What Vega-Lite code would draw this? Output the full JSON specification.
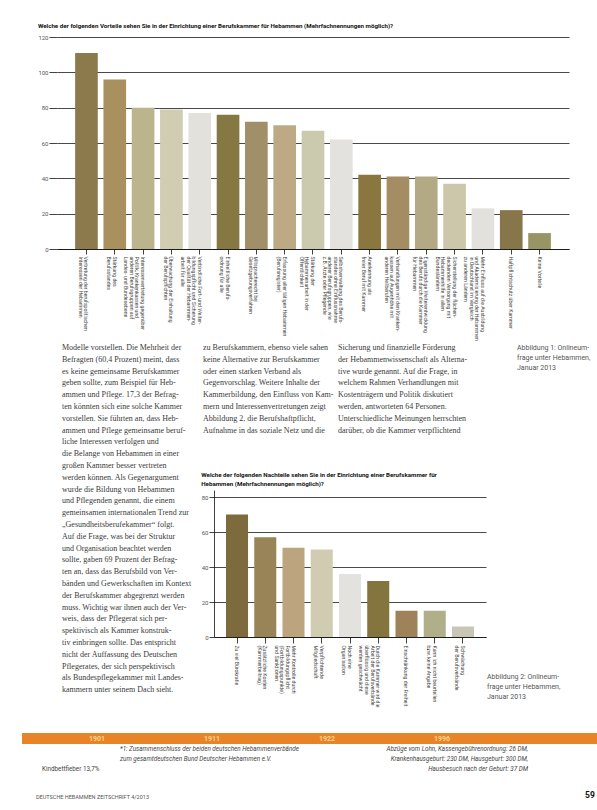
{
  "$schema": "https://vega.github.io/schema/vega-lite/v6.json",
  "background": "white",
  "padding": {"left": 22, "top": 22, "right": 0, "bottom": 0},
  "autosize": {"type": "pad"},
  "spacing": 3,
  "resolve": {"scale": {"color": "independent"}},
  "config": {
    "view": {"stroke": null},
    "font": "Roboto, Liberation Sans, sans-serif",
    "axis": {
      "labelFont": "Roboto, Liberation Sans, sans-serif",
      "domainColor": "#111111",
      "tickColor": "#111111",
      "gridColor": "#1a1a1a",
      "gridWidth": 0.8,
      "domainWidth": 0.8,
      "tickWidth": 0.8,
      "labelColor": "#444444"
    },
    "title": {"font": "Roboto, Liberation Sans, sans-serif", "color": "#111111"}
  },
  "vconcat": [
    {
      "spacing": 14,
      "hconcat": [
        {"width": 1, "height": 1, "data": {"values": []}, "mark": "point"},
        {
          "width": 512,
          "height": 212,
          "title": {
            "text": "Welche der folgenden Vorteile sehen Sie in der Einrichtung einer Berufskammer für Hebammen (Mehrfachnennungen möglich)?",
            "anchor": "start",
            "frame": "bounds",
            "fontSize": 6.2,
            "fontWeight": "bold",
            "offset": 5
          },
          "data": {
            "values": [
              {"Vorteil": "Vertretung der berufspolitischen|Interessen der Hebammen", "Anzahl": 111},
              {"Vorteil": "Stärkung des|Berufsstandes", "Anzahl": 96},
              {"Vorteil": "Interessenvertretung gegenüber|Politik, Krankenkassen und|anderen Berufsgruppen auf|Landes- und Bundesebene", "Anzahl": 80},
              {"Vorteil": "Überwachung der Einhaltung|der Berufspflichten", "Anzahl": 79},
              {"Vorteil": "Verbindliche Fort- und Weiter-|bildungspflicht und Sicherung|der Qualität der Hebammen-|arbeit für alle", "Anzahl": 77},
              {"Vorteil": "Einheitliche Berufs-|ordnung für alle", "Anzahl": 76},
              {"Vorteil": "Mitspracherecht bei|Gesetzgebungsverfahren", "Anzahl": 72},
              {"Vorteil": "Erfassung aller tätigen Hebammen|(Berufsregister)", "Anzahl": 70},
              {"Vorteil": "Stärkung der|Hebammenarbeit in der|Öffentlichkeit", "Anzahl": 67},
              {"Vorteil": "Selbstverwaltung des Berufs-|standes ohne Einflussnahme|anderer Berufsgruppen, wie|z.B. Ärzte oder Pflegende", "Anzahl": 62},
              {"Vorteil": "Anerkennung als|freier Beruf mit Kammer", "Anzahl": 42},
              {"Vorteil": "Verhandlungen mit den Kranken-|kassen auf Augenhöhe mit|anderen Heilberufen", "Anzahl": 41},
              {"Vorteil": "Eigenständige Weiterentwicklung|des Berufs durch die Kammer|für Hebammen", "Anzahl": 41},
              {"Vorteil": "Sicherstellung der flächen-|deckenden Versorgung mit|Hebammenhilfe in allen|Bundesländern", "Anzahl": 37},
              {"Vorteil": "Mehr Einfluss auf die Ausbildung|und Akademisierung der Hebammen|in Deutschland im Vergleich|zu anderen Ländern", "Anzahl": 23},
              {"Vorteil": "Haftpflichtschutz über Kammer", "Anzahl": 22},
              {"Vorteil": "Keine Vorteile", "Anzahl": 9}
            ]
          },
          "mark": {"type": "bar"},
          "encoding": {
            "x": {
              "field": "Vorteil",
              "type": "nominal",
              "sort": null,
              "scale": {"paddingInner": 0.2, "paddingOuter": 0.64},
              "axis": {
                "title": null,
                "labelAngle": 90,
                "labelExpr": "split(datum.label, '|')",
                "labelFontSize": 5.2,
                "labelLineHeight": 5.6,
                "labelPadding": 2,
                "tickSize": 5,
                "labelOverlap": false,
                "labelLimit": 0
              }
            },
            "y": {
              "field": "Anzahl",
              "type": "quantitative",
              "scale": {"domain": [0, 120], "nice": false},
              "axis": {
                "title": null,
                "values": [0, 20, 40, 60, 80, 100, 120],
                "grid": true,
                "domain": false,
                "tickSize": 8,
                "labelFontSize": 6,
                "labelPadding": 1,
                "labelColor": "#555555"
              }
            },
            "color": {
              "field": "Vorteil",
              "type": "nominal",
              "sort": null,
              "legend": null,
              "scale": {"range": ["#8c7a4c", "#a8915f", "#bbb48c", "#d0cdb2", "#e3e1dc", "#857842", "#a08f68", "#bea985", "#cbcaae", "#e4e2de", "#8a773f", "#a58d63", "#b3aa85", "#ccc7ab", "#e2e1dd", "#86764a", "#989565"]}
            }
          }
        }
      ]
    },
    {
      "spacing": 25,
      "vconcat": [
        {
          "spacing": 1,
          "hconcat": [
            {
              "spacing": 39,
              "hconcat": [
                {"width": 1, "height": 1, "data": {"values": []}, "mark": "point"},
                {
                  "width": 136,
                  "height": 100,
                  "data": {"values": [{"Text": "Modelle vorstellen. Die Mehrheit der\nBefragten (60,4 Prozent) meint, dass\nes keine gemeinsame Berufskammer\ngeben sollte, zum Beispiel für Heb-\nammen und Pflege. 17,3 der Befrag-\nten könnten sich eine solche Kammer\nvorstellen. Sie führten an, dass Heb-\nammen und Pflege gemeinsame beruf-\nliche Interessen verfolgen und\ndie Belange von Hebammen in einer\ngroßen Kammer besser vertreten\nwerden können. Als Gegenargument\nwurde die Bildung von Hebammen\nund Pflegenden genannt, die einem\ngemeinsamen internationalen Trend zur\n„Gesundheitsberufekammer“ folgt.\nAuf die Frage, was bei der Struktur\nund Organisation beachtet werden\nsollte, gaben 69 Prozent der Befrag-\nten an, dass das Berufsbild von Ver-\nbänden und Gewerkschaften im Kontext\nder Berufskammer abgegrenzt werden\nmuss. Wichtig war ihnen auch der Ver-\nweis, dass der Pflegerat sich per-\nspektivisch als Kammer konstruk-\ntiv einbringen sollte. Das entspricht\nnicht der Auffassung des Deutschen\nPflegerates, der sich perspektivisch\nals Bundespflegekammer mit Landes-\nkammern unter seinem Dach sieht."}]},
                  "mark": {"type": "text", "align": "left", "baseline": "top", "lineBreak": "\n", "font": "Liberation Serif", "fontSize": 8, "lineHeight": 11.8, "color": "#3a3a3a"},
                  "encoding": {
                    "text": {"field": "Text", "type": "nominal"},
                    "x": {"datum": 0, "type": "quantitative", "scale": {"domain": [0, 1]}, "axis": null},
                    "y": {"datum": 1, "type": "quantitative", "scale": {"domain": [0, 1]}, "axis": null}
                  }
                }
              ]
            },
            {
              "spacing": 27,
              "vconcat": [
                {
                  "spacing": 3,
                  "hconcat": [
                    {"width": 1, "height": 1, "data": {"values": []}, "mark": "point"},
                    {
                      "width": 132,
                      "height": 100,
                      "data": {"values": [{"Text": "zu Berufskammern, ebenso viele sahen\nkeine Alternative zur Berufskammer\noder einen starken Verband als\nGegenvorschlag. Weitere Inhalte der\nKammerbildung, den Einfluss von Kam-\nmern und Interessenvertretungen zeigt\nAbbildung 2, die Berufshaftpflicht,\nAufnahme in das soziale Netz und die"}]},
                      "mark": {"type": "text", "align": "left", "baseline": "top", "lineBreak": "\n", "font": "Liberation Serif", "fontSize": 8, "lineHeight": 11.8, "color": "#3a3a3a"},
                      "encoding": {
                        "text": {"field": "Text", "type": "nominal"},
                        "x": {"datum": 0, "type": "quantitative", "scale": {"domain": [0, 1]}, "axis": null},
                        "y": {"datum": 1, "type": "quantitative", "scale": {"domain": [0, 1]}, "axis": null}
                      }
                    },
                    {
                      "width": 176,
                      "height": 100,
                      "data": {"values": [{"Text": "Sicherung und finanzielle Förderung\nder Hebammenwissenschaft als Alterna-\ntive wurde genannt. Auf die Frage, in\nwelchem Rahmen Verhandlungen mit\nKostenträgern und Politik diskutiert\nwerden, antworteten 64 Personen.\nUnterschiedliche Meinungen herrschten\ndarüber, ob die Kammer verpflichtend"}]},
                      "mark": {"type": "text", "align": "left", "baseline": "top", "lineBreak": "\n", "font": "Liberation Serif", "fontSize": 8, "lineHeight": 11.8, "color": "#3a3a3a"},
                      "encoding": {
                        "text": {"field": "Text", "type": "nominal"},
                        "x": {"datum": 0, "type": "quantitative", "scale": {"domain": [0, 1]}, "axis": null},
                        "y": {"datum": 1, "type": "quantitative", "scale": {"domain": [0, 1]}, "axis": null}
                      }
                    },
                    {
                      "width": 78,
                      "height": 30,
                      "data": {"values": [{"Text": "Abbildung 1: Onlineum-\nfrage unter Hebammen,\nJanuar 2013"}]},
                      "mark": {"type": "text", "align": "left", "baseline": "top", "lineBreak": "\n", "fontSize": 7, "lineHeight": 10, "color": "#555555"},
                      "encoding": {
                        "text": {"field": "Text", "type": "nominal"},
                        "x": {"datum": 0, "type": "quantitative", "scale": {"domain": [0, 1]}, "axis": null},
                        "y": {"datum": 1, "type": "quantitative", "scale": {"domain": [0, 1]}, "axis": null}
                      }
                    }
                  ]
                },
                {
                  "spacing": 1,
                  "hconcat": [
                    {"width": 1, "height": 1, "data": {"values": []}, "mark": "point"},
                    {
                      "width": 272,
                      "height": 147,
                      "title": {
                        "text": ["Welche der folgenden Nachteile sehen Sie in der Einrichtung einer Berufskammer für", "Hebammen (Mehrfachnennungen möglich)?"],
                        "anchor": "start",
                        "frame": "bounds",
                        "fontSize": 6.2,
                        "fontWeight": "bold",
                        "lineHeight": 9,
                        "offset": 3
                      },
                      "data": {
                        "values": [
                          {"Nachteil": "Zu viel Bürokratie", "Anzahl": 70},
                          {"Nachteil": "Zusätzliche Kosten|(Kammerbeitrag)", "Anzahl": 57},
                          {"Nachteil": "Mehr Kontrolle durch|Fortbildungspflicht|(Fortbildungspunkte)|und Sanktionen", "Anzahl": 51},
                          {"Nachteil": "Verpflichtende|Mitgliedschaft", "Anzahl": 50},
                          {"Nachteil": "Noch eine|Organisation", "Anzahl": 36},
                          {"Nachteil": "Durch die Kammer wird die|Arbeit der Berufsverbände|überflüssig und diese|werden geschwächt", "Anzahl": 32},
                          {"Nachteil": "Einschränkung der Freiheit", "Anzahl": 15},
                          {"Nachteil": "Kann ich nicht beurteilen|bzw. keine Angabe", "Anzahl": 15},
                          {"Nachteil": "Schwächung|der Berufsverbände", "Anzahl": 6}
                        ]
                      },
                      "mark": {"type": "bar"},
                      "encoding": {
                        "x": {
                          "field": "Nachteil",
                          "type": "nominal",
                          "sort": null,
                          "scale": {"paddingInner": 0.22, "paddingOuter": 0.425},
                          "axis": {
                            "title": null,
                            "labelAngle": 90,
                            "labelExpr": "split(datum.label, '|')",
                            "labelFontSize": 5.2,
                            "labelLineHeight": 5.6,
                            "labelPadding": 2,
                            "tickSize": 6,
                            "labelOverlap": false,
                            "labelLimit": 0
                          }
                        },
                        "y": {
                          "field": "Anzahl",
                          "type": "quantitative",
                          "scale": {"domain": [0, 84], "nice": false},
                          "axis": {
                            "title": null,
                            "values": [0, 20, 40, 60, 80],
                            "grid": true,
                            "domain": true,
                            "tickSize": 5,
                            "labelFontSize": 6,
                            "labelPadding": 1,
                            "labelColor": "#555555"
                          }
                        },
                        "color": {
                          "field": "Nachteil",
                          "type": "nominal",
                          "sort": null,
                          "legend": null,
                          "scale": {"range": ["#7e6b3d", "#998457", "#bba47e", "#cfccb2", "#e4e2de", "#84743e", "#9e835a", "#b1ae8a", "#c8c7b6"]}
                        }
                      }
                    },
                    {
                      "width": 78,
                      "height": 183,
                      "data": {"values": [{"Text": "Abbildung 2: Onlineum-\nfrage unter Hebammen,\nJanuar 2013"}]},
                      "mark": {"type": "text", "align": "left", "baseline": "top", "lineBreak": "\n", "fontSize": 7, "lineHeight": 10, "color": "#555555"},
                      "encoding": {
                        "text": {"field": "Text", "type": "nominal"},
                        "x": {"datum": 0, "type": "quantitative", "scale": {"domain": [0, 1]}, "axis": null},
                        "y": {"datum": 0, "type": "quantitative", "scale": {"domain": [0, 1]}, "axis": null}
                      }
                    }
                  ]
                }
              ]
            }
          ]
        },
        {
          "spacing": 2,
          "vconcat": [
            {
              "width": 575,
              "height": 11,
              "view": {"fill": "#e8832a", "stroke": null},
              "data": {"values": [{"Jahr": "1901"}, {"Jahr": "1911"}, {"Jahr": "1922"}, {"Jahr": "1996"}]},
              "mark": {"type": "text", "fontSize": 7, "fontWeight": "bold", "color": "#f7d68e", "baseline": "middle"},
              "encoding": {
                "x": {"field": "Jahr", "type": "ordinal", "scale": {"type": "point", "padding": 1.02, "align": 0.326}, "axis": null},
                "y": {"datum": 0.5, "type": "quantitative", "scale": {"domain": [0, 1]}, "axis": null},
                "text": {"field": "Jahr", "type": "nominal"}
              }
            },
            {
              "spacing": 19,
              "hconcat": [
                {"width": 1, "height": 1, "data": {"values": []}, "mark": "point"},
                {
                  "width": 59,
                  "height": 26,
                  "data": {"values": [{"Text": "Kindbettfieber 13,7%"}]},
                  "mark": {"type": "text", "align": "left", "baseline": "bottom", "fontSize": 6.3, "color": "#444444"},
                  "encoding": {
                    "text": {"field": "Text", "type": "nominal"},
                    "x": {"datum": 0, "type": "quantitative", "scale": {"domain": [0, 1]}, "axis": null},
                    "y": {"datum": 0, "type": "quantitative", "scale": {"domain": [0, 1]}, "axis": null}
                  }
                },
                {
                  "width": 240,
                  "height": 26,
                  "data": {"values": [{"Text": "*1: Zusammenschluss der beiden deutschen Hebammenverbände\nzum gesamtdeutschen Bund Deutscher Hebammen e.V."}]},
                  "mark": {"type": "text", "align": "left", "baseline": "top", "lineBreak": "\n", "fontSize": 6.3, "fontStyle": "italic", "lineHeight": 10, "color": "#444444"},
                  "encoding": {
                    "text": {"field": "Text", "type": "nominal"},
                    "x": {"datum": 0, "type": "quantitative", "scale": {"domain": [0, 1]}, "axis": null},
                    "y": {"datum": 1, "type": "quantitative", "scale": {"domain": [0, 1]}, "axis": null}
                  }
                },
                {
                  "width": 149,
                  "height": 26,
                  "data": {"values": [{"Text": "Abzüge vom Lohn, Kassengebührenordnung: 26 DM,\nKrankenhausgeburt: 230 DM, Hausgeburt: 300 DM,\nHausbesuch nach der Geburt: 37 DM"}]},
                  "mark": {"type": "text", "align": "right", "baseline": "top", "lineBreak": "\n", "fontSize": 6.3, "fontStyle": "italic", "lineHeight": 10, "color": "#444444"},
                  "encoding": {
                    "text": {"field": "Text", "type": "nominal"},
                    "x": {"datum": 1, "type": "quantitative", "scale": {"domain": [0, 1]}, "axis": null},
                    "y": {"datum": 1, "type": "quantitative", "scale": {"domain": [0, 1]}, "axis": null}
                  }
                }
              ]
            },
            {
              "spacing": 13,
              "hconcat": [
                {"width": 1, "height": 1, "data": {"values": []}, "mark": "point"},
                {
                  "width": 536,
                  "height": 25,
                  "data": {"values": [{"Text": "DEUTSCHE HEBAMMEN ZEITSCHRIFT 4/2013"}]},
                  "mark": {"type": "text", "align": "left", "baseline": "bottom", "fontSize": 5.5, "color": "#555555"},
                  "encoding": {
                    "text": {"field": "Text", "type": "nominal"},
                    "x": {"datum": 0, "type": "quantitative", "scale": {"domain": [0, 1]}, "axis": null},
                    "y": {"datum": 0, "type": "quantitative", "scale": {"domain": [0, 1]}, "axis": null}
                  }
                },
                {
                  "width": 10,
                  "height": 25,
                  "data": {"values": [{"Text": "59"}]},
                  "mark": {"type": "text", "align": "left", "baseline": "bottom", "fontSize": 8.5, "fontWeight": "bold", "color": "#111111"},
                  "encoding": {
                    "text": {"field": "Text", "type": "nominal"},
                    "x": {"datum": 0, "type": "quantitative", "scale": {"domain": [0, 1]}, "axis": null},
                    "y": {"datum": 0, "type": "quantitative", "scale": {"domain": [0, 1]}, "axis": null}
                  }
                }
              ]
            }
          ]
        }
      ]
    }
  ]
}
